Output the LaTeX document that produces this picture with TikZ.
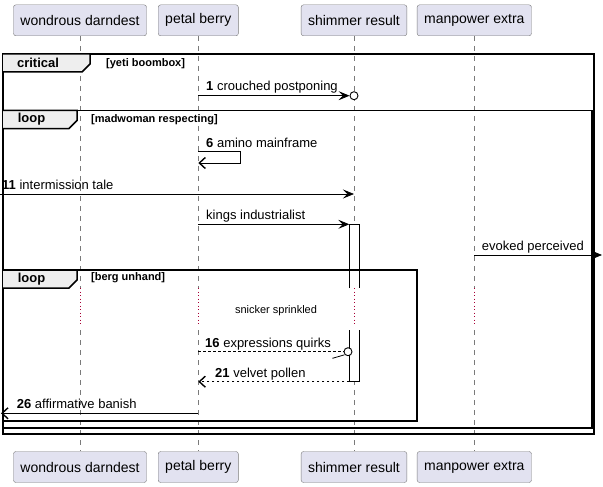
\documentclass[tikz,border=0pt]{standalone}
\usepackage{fontspec}
\setmainfont{Liberation Sans}
\usetikzlibrary{positioning,arrows.meta}
\definecolor{partfill}{HTML}{E2E2F0}
\definecolor{partline}{HTML}{7A7A7A}
\definecolor{tabfill}{HTML}{EEEEEE}
\definecolor{delaycol}{HTML}{A80036}

\begin{document}
\begin{tikzpicture}[x=1pt,y=-1pt,
part/.style={draw=partline,fill=partfill,rounded corners=2.5pt,inner xsep=7pt,minimum height=31pt,font=\fontsize{14}{17}\selectfont},
life/.style={partline,line width=0.6pt,dash pattern=on 5pt off 5pt},
delayline/.style={delaycol,line width=0.7pt,dash pattern=on 1pt off 2.5pt},
frame/.style={line width=1.5pt},
tab/.style={line width=1.5pt,fill=tabfill},
tabtext/.style={font=\bfseries\fontsize{13}{15}\selectfont},
guard/.style={anchor=west,inner sep=0pt,font=\bfseries\fontsize{11}{13}\selectfont},
lbl/.style={anchor=base west,inner sep=0pt,font=\fontsize{13}{15}\selectfont},
msg/.style={line width=0.8pt,-{Stealth[length=11pt,width=9pt,inset=4.5pt]}},
async/.style={line width=0.8pt,-{Straight Barb[length=6pt,width=11pt,line width=1.4pt]}},
ret/.style={async,dash pattern=on 2.5pt off 2.5pt},
ring/.style={circle,draw,line width=0.9pt,minimum size=8pt,inner sep=0pt,fill=white}]
\useasboundingbox (0,0) rectangle (603,487);

\node (wd) [part] at (80,20.3) {wondrous darndest};
\node (pb) [part] at (198.3,20.3) {petal berry};
\node (sr) [part] at (354,20.3) {shimmer result};
\node (me) [part] at (474.3,20.3) {manpower extra};
\node (wd-b) [part,below=415.3pt of wd] {wondrous darndest};
\node (pb-b) [part,below=415.3pt of pb] {petal berry};
\node (sr-b) [part,below=415.3pt of sr] {shimmer result};
\node (me-b) [part,below=415.3pt of me] {manpower extra};

\coordinate (dA) at (0,288);
\coordinate (dB) at (0,324);
\coordinate (dC) at (0,330);
\foreach \p in {wd,pb,sr,me}{
  \draw[life] (\p) -- (\p |- dA);
  \draw[delayline] (\p |- dA) -- (\p |- dB);
  \draw[life] (\p |- dC) -- (\p-b);
}
\node (delay) [font=\fontsize{11}{13}\selectfont] at (276,310.7) {snicker sprinkled};

\coordinate (actA) at (349.3,224.3);
\coordinate (actB) at (349.3,381.7);
\draw[line width=0.8pt,fill=white] (349.3,288) -- (actA) -- (359.3,224.3) -- (359.3,288);
\draw[line width=0.8pt,fill=white] (349.3,330) -- (actB) -- (359.3,381.7) -- (359.3,330);

\draw[frame] (3,54) rectangle (594,434);
\draw[frame] (3,110.5) rectangle (592,428);
\draw[frame] (3,270) rectangle (417,421);
\draw[tab] (3,54) -- (90,54) -- (90,64) -- (82,72) -- (3,72);
\draw[tab] (3,110.5) -- (77,110.5) -- (77,120.5) -- (69,128.5) -- (3,128.5);
\draw[tab] (3,270) -- (77,270) -- (77,280) -- (69,288) -- (3,288);
\node (critical) [tabtext] at (38,63) {critical};
\node (loopA) [tabtext] at (31.5,119.5) {loop};
\node (loopB) [tabtext] at (31.5,279) {loop};
\node (gA) [guard] at (106,64) {[yeti boombox]};
\node (gB) [guard] at (91,120) {[madwoman respecting]};
\node (gC) [guard] at (91,278) {[berg unhand]};

\coordinate (r1) at (0,95.7);
\coordinate (r6) at (0,151.7);
\coordinate (r6b) at (0,163);
\coordinate (r11) at (0,194);
\coordinate (r16) at (0,351.7);
\coordinate (r26) at (1,413.3);
\coordinate (re) at (602,255);

\node (c1) [ring] at (sr |- r1) {};
\draw[msg] (pb |- r1) -- (c1);
\node (l1) [lbl] at (206,91) {\textbf{1} crouched postponing};

\draw[async] (pb |- r6) -- ++(42,0) -- ++(0,11.3) -- (pb |- r6b);
\node (l6) [lbl] at (206,147.5) {\textbf{6} amino mainframe};

\draw[msg] (r11) -- (sr |- r11);
\node (l11) [lbl] at (2,189.5) {\textbf{11} intermission tale};

\draw[msg] (pb |- actA) -- (actA);
\node (lk) [lbl] at (206,219.8) {kings industrialist};

\draw[msg] (me |- re) -- (re);
\node (le) [lbl] at (481.7,250.3) {evoked perceived};

\node (c16) [ring] at (348,351.7) {};
\draw[line width=0.8pt,dash pattern=on 2.5pt off 2.5pt] (pb |- r16) -- (c16);
\draw[line width=0.8pt] ([xshift=-0.5pt]c16.south west) -- ++(-12,3.5);
\node (l16) [lbl] at (205,347.2) {\textbf{16} expressions quirks};

\draw[ret] (actB) -- (pb |- actB);
\node (l21) [lbl] at (215,377.2) {\textbf{21} velvet pollen};

\draw[async] (pb |- r26) -- (r26);
\node (l26) [lbl] at (16.7,408.8) {\textbf{26} affirmative banish};
\end{tikzpicture}
\end{document}
